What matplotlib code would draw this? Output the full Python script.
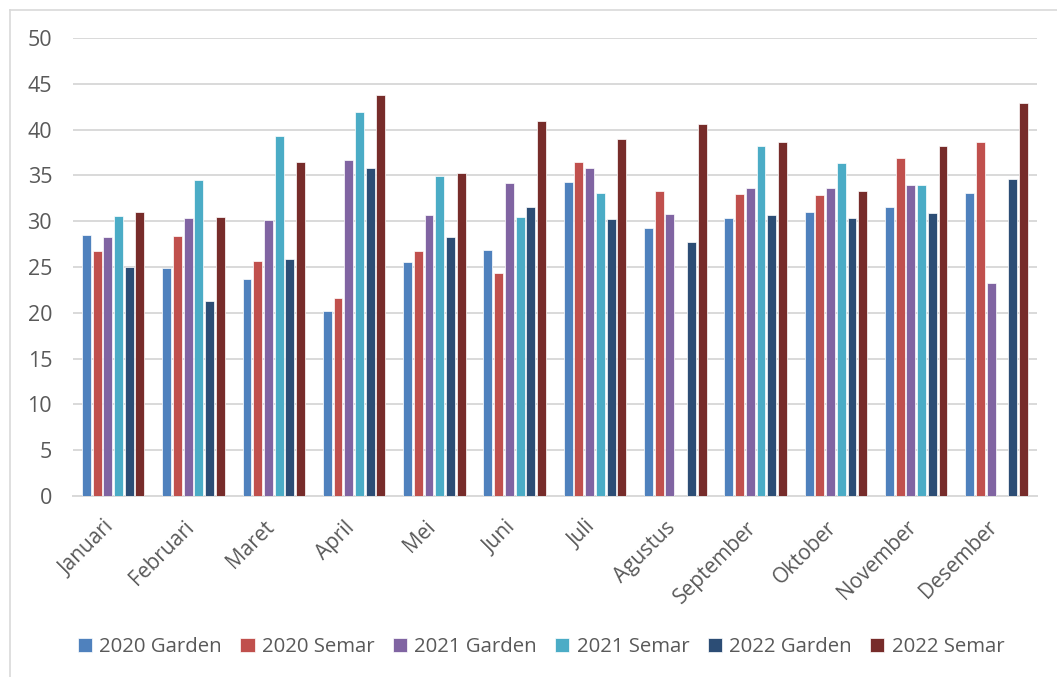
import numpy as np
import matplotlib
matplotlib.use("Agg")
import matplotlib.pyplot as plt
from matplotlib.lines import Line2D
from matplotlib.transforms import ScaledTranslation

months = ["Januari", "Februari", "Maret", "April", "Mei", "Juni", "Juli",
          "Agustus", "September", "Oktober", "November", "Desember"]

garden_2020 = [28.5, 24.9, 23.7, 20.2, 25.6, 26.9, 34.3, 29.3, 30.4, 31.0, 31.5, 33.1]
semar_2020 = [26.8, 28.4, 25.7, 21.6, 26.7, 24.3, 36.5, 33.3, 33.0, 32.9, 36.9, 38.6]
garden_2021 = [28.3, 30.4, 30.1, 36.7, 30.7, 34.2, 35.8, 30.8, 33.6, 33.6, 34.0, 23.2]
semar_2021 = [30.6, 34.5, 39.3, 41.9, 34.9, 30.5, 33.1, np.nan, 38.2, 36.3, 33.9, np.nan]
garden_2022 = [25.0, 21.3, 25.9, 35.8, 28.3, 31.6, 30.2, 27.7, 30.7, 30.4, 30.9, 34.6]
semar_2022 = [31.0, 30.5, 36.5, 43.8, 35.3, 40.9, 39.0, 40.6, 38.7, 33.3, 38.2, 42.9]

series_names = ["2020 Garden", "2020 Semar", "2021 Garden",
                "2021 Semar", "2022 Garden", "2022 Semar"]
series = [garden_2020, semar_2020, garden_2021, semar_2021, garden_2022, semar_2022]
colors = ["#4F81BD", "#C0504D", "#8064A2", "#4BACC6", "#2C4D75", "#772C2A"]

plt.rcParams['font.family'] = ['Open Sans', 'DejaVu Sans']
txt = "#595959"

W, H = 1057, 677
fig = plt.figure(figsize=(W / 100, H / 100), dpi=100)
ax = fig.add_axes([73 / W, 1 - 496 / H, (1036.7 - 73) / W, (496 - 38) / H])

x = np.arange(len(months))
w = 1 / 9
step = w * 1.2
for i, (name, vals, c) in enumerate(zip(series_names, series, colors)):
    ax.bar(x + (i - 2.5) * step, vals, width=w, color=c, label=name,
           edgecolor="white", linewidth=0.5, zorder=3)

ax.set_xlim(-0.5, len(months) - 0.5)
ax.set_ylim(0, 50)
ax.set_yticks(np.arange(0, 51, 5))
ax.grid(axis="y", color="#D9D9D9", linewidth=1.4, zorder=0)
for s in ["top", "right", "left"]:
    ax.spines[s].set_visible(False)
ax.spines["bottom"].set_color("#D9D9D9")
ax.spines["bottom"].set_linewidth(1.4)

ax.set_xticks(x)
ax.set_xticklabels(months, rotation=45, ha="right")
ax.tick_params(axis="x", length=0, pad=15, labelsize=15, labelcolor=txt)
ax.tick_params(axis="y", length=0, pad=15, labelsize=15.5, labelcolor=txt)
shift = ScaledTranslation(5 / 100, 0, fig.dpi_scale_trans)
for lab in ax.get_xticklabels():
    lab.set_transform(lab.get_transform() + shift)

leg = fig.legend(loc="center", bbox_to_anchor=(541 / W, 1 - 647 / H), ncol=6,
                 frameon=False, fontsize=14.7, handlelength=0.7, handleheight=0.7,
                 handletextpad=0.35, columnspacing=0.9, labelcolor=txt)

# chart frame
fig.add_artist(Line2D([9.5 / W, 9.5 / W], [0, 1 - 9.5 / H], transform=fig.transFigure,
                      color="#D9D9D9", linewidth=1.2))
fig.add_artist(Line2D([9.5 / W, 1], [1 - 9.5 / H, 1 - 9.5 / H], transform=fig.transFigure,
                      color="#D9D9D9", linewidth=1.2))

fig.savefig("out.png", dpi=100)
